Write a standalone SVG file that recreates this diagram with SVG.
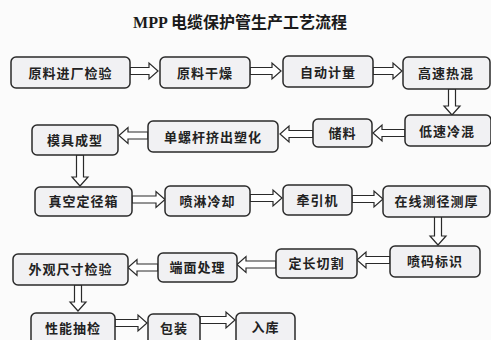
<svg xmlns="http://www.w3.org/2000/svg" width="491" height="340" viewBox="0 0 491 340">
<defs>
<style>
.bg{fill:#fbfbfb}
.box rect{fill:#f1f1f3;stroke:#2a2a2a;stroke-width:1.5}
.box text{font-family:"Noto Sans CJK SC","Noto Sans",sans-serif;font-weight:bold;font-size:13px;fill:#222;text-anchor:middle;letter-spacing:1px}
.title{font-family:"Liberation Serif","Noto Sans CJK SC",serif;font-weight:bold;font-size:16px;fill:#1a1a1a;text-anchor:middle}
.title2{font-family:"Noto Sans CJK SC",sans-serif;font-weight:bold;font-size:16px;fill:#1a1a1a}
.arr{fill:#ffffff;stroke:#2a2a2a;stroke-width:1.2;stroke-linejoin:miter}
</style>
</defs>
<rect class="bg" x="0" y="0" width="491" height="340"/>
<text x="240" y="28" class="title">MPP 电缆保护管生产工艺流程</text>

<g id="connectors">
<!-- row1 right arrows: shaft half 3.5, head half 8, head len 9 -->
<path class="arr" d="M130,67.5 H149 V63 L158,71 L149,79 V74.5 H130 Z"/>
<path class="arr" d="M250,67.5 H272 V63 L281,71 L272,79 V74.5 H250 Z"/>
<path class="arr" d="M373,67.5 H393 V63 L402,71 L393,79 V74.5 H373 Z"/>
<!-- down B4->B5 -->
<path class="arr" d="M448.5,89 V106 H444 L452,115 L460,106 H455.5 V89 Z"/>
<!-- row2 left arrows -->
<path class="arr" d="M405,129.5 H382 V125 L373,133 L382,141 V136.5 H405 Z"/>
<path class="arr" d="M313,130.5 H289 V126 L280,134 L289,142 V137.5 H313 Z"/>
<path class="arr" d="M148,132 H128 V127.5 L119,135.5 L128,143.5 V139 H148 Z"/>
<!-- down B8->B9 -->
<path class="arr" d="M76.5,155 V177 H72 L80,186 L88,177 H83.5 V155 Z"/>
<!-- row3 right arrows -->
<path class="arr" d="M132,196 H156 V191.5 L165,199.5 L156,207.5 V203 H132 Z"/>
<path class="arr" d="M250,194.5 H273 V190 L282,198 L273,206 V201.5 H250 Z"/>
<path class="arr" d="M352,195.5 H374 V191 L383,199 L374,207 V202.5 H352 Z"/>
<!-- down B12->B13 -->
<path class="arr" d="M434.5,216 V236 H430 L438,245 L446,236 H441.5 V216 Z"/>
<!-- row4 left arrows -->
<path class="arr" d="M390,256.5 H366 V252 L357,260 L366,268 V263.5 H390 Z"/>
<path class="arr" d="M276,261 H246 V256.5 L237,264.5 L246,272.5 V268 H276 Z"/>
<path class="arr" d="M158,264 H137 V259.5 L128,267.5 L137,275.5 V271 H158 Z"/>
<!-- down B16->B17 -->
<path class="arr" d="M74.5,285 V302 H70 L78,311 L86,302 H81.5 V285 Z"/>
<!-- row5 right arrows -->
<path class="arr" d="M115,319.5 H138 V315 L147,323 L138,331 V326.5 H115 Z"/>
<path class="arr" d="M200,316.5 H226 V312 L235,320 L226,328 V323.5 H200 Z"/>
</g>

<g id="n1" class="box"><rect x="11" y="57" width="119" height="31" rx="5"/><text x="70.5" y="77.5">原料进厂检验</text></g>
<g id="n2" class="box"><rect x="160" y="57" width="90" height="31" rx="5"/><text x="205" y="77.5">原料干燥</text></g>
<g id="n3" class="box"><rect x="283" y="56" width="90" height="31" rx="5"/><text x="328" y="76.5">自动计量</text></g>
<g id="n4" class="box"><rect x="403" y="57" width="87" height="32" rx="5"/><text x="446" y="78">高速热混</text></g>
<g id="n5" class="box"><rect x="405" y="115" width="86" height="31" rx="5"/><text x="447" y="135.5">低速冷混</text></g>
<g id="n6" class="box"><rect x="313" y="119" width="59" height="28" rx="5"/><text x="342.5" y="137.5">储料</text></g>
<g id="n7" class="box"><rect x="148" y="121" width="130" height="31" rx="5"/><text x="213" y="141.5">单螺杆挤出塑化</text></g>
<g id="n8" class="box"><rect x="32" y="125" width="86" height="30" rx="5"/><text x="75" y="145">模具成型</text></g>
<g id="n9" class="box"><rect x="35" y="187" width="97" height="29" rx="5"/><text x="83.5" y="206">真空定径箱</text></g>
<g id="n10" class="box"><rect x="165" y="186" width="85" height="30" rx="5"/><text x="207.5" y="205.5">喷淋冷却</text></g>
<g id="n11" class="box"><rect x="283" y="185" width="69" height="30" rx="5"/><text x="317.5" y="204.5">牵引机</text></g>
<g id="n12" class="box"><rect x="383" y="186" width="107" height="31" rx="5"/><text x="436.5" y="206">在线测径测厚</text></g>
<g id="n13" class="box"><rect x="390" y="246" width="90" height="31" rx="5"/><text x="435" y="266">喷码标识</text></g>
<g id="n14" class="box"><rect x="276" y="249" width="81" height="29" rx="5"/><text x="316.5" y="268">定长切割</text></g>
<g id="n15" class="box"><rect x="158" y="253" width="79" height="29" rx="5"/><text x="197.5" y="272">端面处理</text></g>
<g id="n16" class="box"><rect x="13" y="254" width="115" height="31" rx="5"/><text x="70.5" y="274">外观尺寸检验</text></g>
<g id="n17" class="box"><rect x="31" y="313" width="84" height="32" rx="5"/><text x="73" y="333">性能抽检</text></g>
<g id="n18" class="box"><rect x="148" y="314" width="52" height="31" rx="5"/><text x="174" y="333">包装</text></g>
<g id="n19" class="box"><rect x="236" y="313" width="59" height="32" rx="5"/><text x="265.5" y="332">入库</text></g>
</svg>
